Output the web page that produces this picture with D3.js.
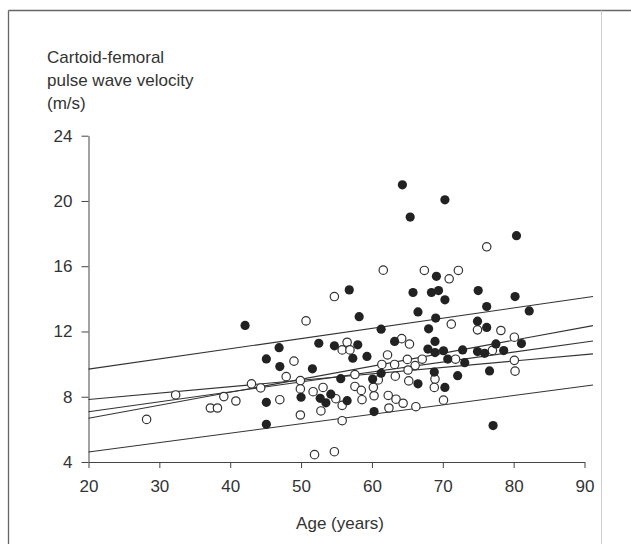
<!DOCTYPE html>
<html>
<head>
<meta charset="utf-8">
<script src="https://d3js.org/d3.v7.min.js"></script>
<style>
    body { margin: 0; padding: 0; background: #fff; }
    svg text { font-family: 'Liberation Sans', Arial, sans-serif; fill: #333; }
</style>
</head>
<body>
<div id="chart"></div>
<script>
    // filled circles
    const filledAges = [42.1, 46.9, 45.1, 47.0, 51.6, 52.5, 54.7, 56.8, 58.2, 57.3, 55.6, 45.1, 45.1, 50.0, 52.7, 53.5,
        54.2, 56.5, 58.0, 64.3, 70.3, 65.4, 80.4, 69.1, 65.8, 68.4, 69.4, 70.3, 75.0, 80.2, 76.2, 82.2, 66.5, 69.0,
        61.3, 68.0, 74.9, 76.2, 59.3, 63.2, 68.9, 67.9, 68.9, 70.1, 70.7, 72.8, 73.1, 74.9, 75.9, 77.5, 78.6, 81.1,
        76.6, 60.1, 61.3, 68.8, 66.5, 72.1, 70.3, 60.3, 77.1];
    const filledPwv = [12.37, 11.01, 10.32, 9.85, 9.71, 11.28, 11.12, 14.55, 12.91, 10.36, 9.11, 7.66, 6.31, 7.97, 7.90, 7.63,
        8.16, 7.76, 11.18, 20.99, 20.07, 19.01, 17.87, 15.38, 14.39, 14.39, 14.51, 13.94, 14.51, 14.14, 13.53, 13.26, 13.20, 12.82,
        12.14, 12.16, 12.63, 12.25, 10.47, 11.39, 11.39, 10.92, 10.71, 10.82, 10.31, 10.87, 10.09, 10.77, 10.66, 11.24, 10.83, 11.26,
        9.58, 9.08, 9.44, 9.51, 8.79, 9.29, 8.57, 7.09, 6.23];

    // open circles
    const openAges = [28.2, 32.3, 37.2, 38.2, 39.1, 40.8, 43.0, 44.3, 47.0, 49.0, 47.9, 49.9, 49.9, 49.9, 50.7, 54.7,
        51.7, 53.1, 52.8, 54.9, 55.8, 55.8, 56.5, 55.8, 56.9, 57.6, 57.6, 58.5, 58.6, 51.9, 54.7, 61.6, 67.4, 70.9,
        72.2, 76.2, 71.2, 74.9, 78.2, 80.1, 64.2, 65.3, 62.2, 61.4, 63.2, 65.0, 66.1, 67.1, 65.1, 71.8, 77.0, 80.1,
        80.2, 60.9, 63.3, 65.2, 68.9, 68.8, 60.2, 60.3, 62.3, 63.4, 64.4, 62.4, 66.2, 70.1];
    const openPwv = [6.61, 8.11, 7.31, 7.31, 8.01, 7.74, 8.79, 8.54, 7.82, 10.18, 9.23, 8.99, 8.48, 6.88, 12.65, 14.14,
        8.31, 8.57, 7.13, 7.88, 7.47, 6.53, 11.34, 10.87, 10.87, 9.36, 8.63, 8.39, 7.82, 4.45, 4.63, 15.76, 15.74, 15.23,
        15.74, 17.19, 12.45, 12.10, 12.06, 11.65, 11.56, 11.23, 10.56, 9.98, 9.98, 10.29, 9.91, 10.30, 9.64, 10.30, 10.84, 10.23,
        9.57, 9.03, 9.26, 8.97, 9.08, 8.57, 8.58, 8.06, 8.08, 7.85, 7.60, 7.31, 7.39, 7.79];

    // regression lines, value at start and end age
    const lineAges = [20, 91.2];
    const upperLimit = [9.69, 14.14];
    const flatFit = [7.83, 10.63];
    const overallFit = [7.08, 11.42];
    const steepFit = [6.68, 12.36];
    const lowerLimit = [4.61, 8.72];

    const xTicks = [20, 30, 40, 50, 60, 70, 80, 90];
    const yTicks = [4, 8, 12, 16, 20, 24];
    const yTitle = ["Cartoid-femoral", "pulse wave velocity", "(m/s)"];
    const xTitle = "Age (years)";

    let width = 631, height = 544;

    let svg = d3.select("#chart").append("svg")
        .attr("width", width)
        .attr("height", height);

    // frame round the figure: top rule runs across, right edge is faint
    svg.append("line")
        .attr("x1", 8.5).attr("x2", width).attr("y1", 10.5).attr("y2", 10.5)
        .attr("stroke", "#666").attr("stroke-width", 1.3);
    svg.append("line")
        .attr("x1", 8.5).attr("x2", 8.5).attr("y1", 10.5).attr("y2", height)
        .attr("stroke", "#666").attr("stroke-width", 1.3);
    svg.append("line")
        .attr("x1", 601.5).attr("x2", 601.5).attr("y1", 10.5).attr("y2", height)
        .attr("stroke", "#ccc").attr("stroke-width", 1);

    let x = d3.scaleLinear().domain([20, 90]).range([88.5, 584.5]);
    let y = d3.scaleLinear().domain([4, 24]).range([462, 135.7]);

    // axes
    let xAxis = svg.append("g")
        .attr("transform", "translate(0," + y(4) + ")")
        .call(d3.axisBottom(x).tickValues(xTicks).tickSize(6).tickSizeOuter(0).tickPadding(12));
    let yAxis = svg.append("g")
        .attr("transform", "translate(" + x(20) + ",0)")
        .call(d3.axisLeft(y).tickValues(yTicks).tickSize(7).tickSizeOuter(0).tickPadding(9));

    [xAxis, yAxis].forEach(function(a) {
        a.selectAll("path, line").attr("stroke", "#444").attr("stroke-width", 1);
        a.selectAll("text").style("font-size", "17px").attr("fill", "#333");
    });

    svg.append("g").selectAll("text")
        .data(yTitle)
        .enter().append("text")
        .attr("x", 47)
        .attr("y", function(d, i) { return 63 + i * 23; })
        .style("font-size", "17px")
        .text(function(d) { return d; });

    svg.append("text")
        .attr("x", x(55.5))
        .attr("y", 529)
        .attr("text-anchor", "middle")
        .style("font-size", "17px")
        .text(xTitle);

    // lines
    let lines = [upperLimit, flatFit, overallFit, steepFit, lowerLimit];
    let line = d3.line()
        .x(function(d, i) { return x(lineAges[i]); })
        .y(function(d) { return y(d); });

    svg.append("g").selectAll("path")
        .data(lines)
        .enter().append("path")
        .attr("d", line)
        .attr("fill", "none")
        .attr("stroke", "#333")
        .attr("stroke-width", 1.1);

    // points
    let openPts = openAges.map(function(a, i) { return [a, openPwv[i]]; });
    let filledPts = filledAges.map(function(a, i) { return [a, filledPwv[i]]; });

    svg.append("g").selectAll("circle")
        .data(openPts)
        .enter().append("circle")
        .attr("cx", function(d) { return x(d[0]); })
        .attr("cy", function(d) { return y(d[1]); })
        .attr("r", 4.2)
        .attr("fill", "#fff")
        .attr("stroke", "#333")
        .attr("stroke-width", 1.2);

    svg.append("g").selectAll("circle")
        .data(filledPts)
        .enter().append("circle")
        .attr("cx", function(d) { return x(d[0]); })
        .attr("cy", function(d) { return y(d[1]); })
        .attr("r", 4.6)
        .attr("fill", "#222");
</script>
</body>
</html>
